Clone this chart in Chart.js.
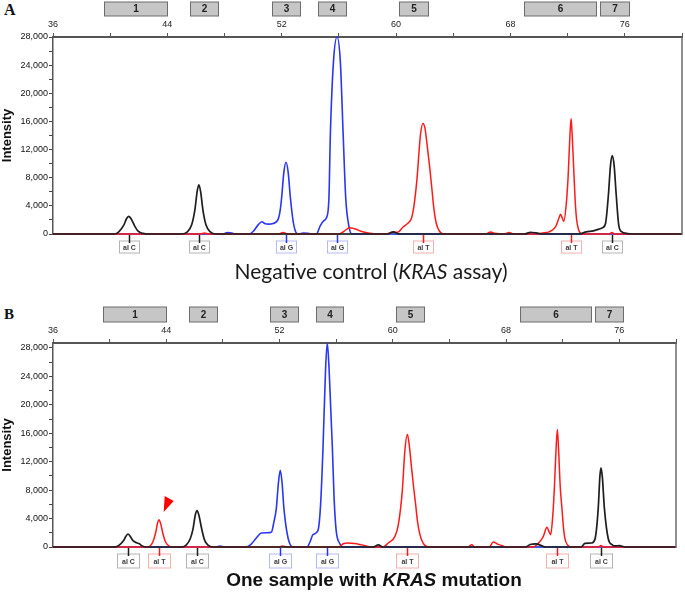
<!DOCTYPE html>
<html>
<head>
<meta charset="utf-8">
<script src="https://cdn.jsdelivr.net/npm/chart.js@4"></script>
<style>
  body { margin: 0; background: #fff; }
  .wrap { position: absolute; left: 0; width: 685px; }
  .txt { position: absolute; white-space: nowrap; color: #111; }
</style>
</head>
<body>
<div class="txt" style="left:4px;top:1px;font:bold 16px 'Liberation Serif';">A</div>
<div class="wrap" style="top:0;height:262px;"><canvas id="chartA"></canvas></div>
<div class="txt" style="left:0;width:742px;text-align:center;top:258px;font:21px Lato;color:#1a1a1a;">Negative control (<i>KRAS</i> assay)</div>

<div class="txt" style="left:4px;top:306px;font:bold 15px 'Liberation Serif';">B</div>
<div class="wrap" style="top:300px;height:280px;"><canvas id="chartB"></canvas></div>
<div class="txt" style="left:0;width:748px;text-align:center;top:569px;font:bold 19px 'Liberation Sans';">One sample with <i>KRAS</i> mutation</div>

<script>
// bins shown as grey boxes above the top axis (start, end in bp)
const bins = [[39.55, 44.0], [45.6, 47.55], [51.3, 53.3], [54.57, 56.5], [60.2, 62.2], [68.97, 73.98], [74.26, 76.28]];
const binNames = ['1', '2', '3', '4', '5', '6', '7'];

// intensity ticks (labels on every other one)
const yTicks = [0, 2000, 4000, 6000, 8000, 10000, 12000, 14000, 16000, 18000, 20000, 22000, 24000, 26000, 28000];

// panel A traces, [size, intensity]
const aBlack = [[36,0],[40.3,0],[40.6,300],[40.95,1250],[41.15,2200],[41.29,2500],[41.45,2200],[41.7,1200],[41.95,400],[42.3,80],[42.7,0],
  [45.0,0],[45.4,300],[45.7,1300],[45.93,3500],[46.08,6000],[46.2,7000],[46.33,6000],[46.48,3500],[46.7,1300],[47.0,300],[47.4,0],
  [59.4,0],[59.8,300],[60.2,0],[69.0,0],[69.4,250],[69.8,150],[70.2,0],
  [72.8,0],[73.3,300],[73.8,450],[74.2,700],[74.45,900],[74.65,1500],[74.85,5500],[75.0,9800],[75.12,11150],[75.25,9800],[75.4,5500],[75.58,1200],[75.8,300],[76.1,100],[76.5,0],[80,0]];
const aBlue = [[36,0],[47.9,0],[48.2,200],[48.5,150],[48.8,0],[49.7,0],[50.0,350],[50.35,1300],[50.61,1750],[50.85,1450],[51.07,1400],[51.4,1500],[51.77,2200],[51.9,3500],[52.0,5300],[52.15,8800],[52.3,10200],[52.45,8800],[52.6,5300],[52.8,1800],[53.04,100],[53.2,0],
  [53.5,150],[53.8,100],[54.1,0],[54.43,0],[54.7,1200],[54.95,1900],[55.13,2300],[55.3,5000],[55.4,14000],[55.62,24500],[55.87,28000],[56.1,24500],[56.3,14000],[56.48,5000],[56.72,900],[56.9,0],[80,0]];
const aRed = [[36,0],[46.3,0],[46.6,150],[46.9,0],[51.8,0],[52.1,200],[52.4,0],
  [56.0,0],[56.4,450],[56.75,900],[57.1,750],[57.6,350],[58.2,100],[58.5,0],
  [59.3,0],[59.7,250],[60.1,250],[60.49,1000],[60.8,1500],[61.07,2200],[61.25,4000],[61.46,7800],[61.7,14000],[61.88,15700],[62.02,15000],[62.18,12500],[62.35,9500],[62.5,6500],[62.65,3500],[62.8,1600],[63.0,500],[63.3,0],
  [66.3,0],[66.6,300],[66.9,100],[67.6,0],[67.9,200],[68.2,0],
  [69.8,0],[70.23,150],[70.7,300],[71.15,1000],[71.4,2300],[71.5,2800],[71.62,2300],[71.73,1800],[71.9,4200],[72.03,8000],[72.15,13500],[72.24,16400],[72.32,14000],[72.42,9500],[72.52,5000],[72.62,2200],[72.75,700],[73.0,0],
  [74.9,0],[75.1,200],[75.3,0],[80,0]];
const aGreen = [[36,0],[80,0]];

// panel B traces
const bBlack = [[36,0],[40.2,0],[40.6,150],[40.99,900],[41.15,1500],[41.3,1830],[41.45,1500],[41.65,900],[41.9,600],[42.1,450],[42.3,150],[42.6,0],
  [45.1,0],[45.42,300],[45.7,1200],[45.89,2560],[46.05,4500],[46.17,5120],[46.3,4500],[46.5,2560],[46.7,1000],[46.95,250],[47.3,0],
  [58.6,0],[58.98,300],[59.3,0],[69.4,0],[69.7,350],[70.1,450],[70.5,200],[70.8,0],
  [73.3,0],[73.57,500],[74.04,560],[74.28,1130],[74.51,5500],[74.62,9800],[74.7,11130],[74.8,9800],[74.94,5500],[75.22,1130],[75.5,300],[75.69,150],[76.0,200],[76.4,0],[80,0]];
const bBlue = [[36,0],[47.5,0],[47.8,150],[48.1,0],[49.65,0],[50.0,400],[50.36,1270],[50.71,1970],[51.1,2000],[51.42,2070],[51.6,3500],[51.77,5400],[51.92,9000],[52.05,10800],[52.18,9000],[52.31,5400],[52.6,1270],[52.95,0],
  [53.94,0],[54.15,700],[54.36,1740],[54.71,2300],[54.9,6000],[55.07,14000],[55.25,25000],[55.37,28700],[55.5,25000],[55.73,14000],[55.85,7000],[56.0,2300],[56.25,500],[56.48,0],[80,0]];
const bRed = [[36,0],[42.6,0],[42.83,100],[43.05,700],[43.25,2000],[43.38,3300],[43.49,3850],[43.6,3300],[43.75,2000],[43.95,700],[44.24,100],[44.5,0],
  [52.0,0],[52.2,150],[52.5,0],[56.2,0],[56.5,450],[56.83,560],[57.3,500],[57.8,300],[58.51,0],
  [59.3,0],[59.68,560],[60.15,1500],[60.39,3150],[60.67,7900],[60.85,13500],[61.03,15820],[61.17,14200],[61.33,11000],[61.48,8200],[61.6,6200],[61.75,3500],[61.92,1700],[62.15,500],[62.5,0],
  [65.3,0],[65.57,300],[65.8,0],[66.8,0],[67.1,700],[67.4,400],[67.7,200],[68.0,0],
  [69.9,0],[70.4,800],[70.63,1500],[70.89,2770],[71.02,2200],[71.15,1740],[71.3,4500],[71.41,8260],[71.5,12500],[71.62,16520],[71.7,14000],[71.83,8260],[71.93,5800],[72.05,2800],[72.16,1130],[72.35,250],[72.6,0],
  [74.5,0],[74.7,200],[74.9,0],[80,0]];
const bGreen = [[36,0],[80,0]];

// allele calls under each panel
const aCallsAt = [41.29, 46.2, 52.3, 55.87, 61.88, 72.24, 75.12];
const aCalls = ['C', 'C', 'G', 'G', 'T', 'T', 'C'];
const bCallsAt = [41.3, 43.49, 46.17, 52.05, 55.37, 61.03, 71.62, 74.7];
const bCalls = ['C', 'T', 'C', 'G', 'G', 'T', 'T', 'C'];

// arrow marking the mutant peak in panel B
const arrowAt = [44.1, 6200];

const traceColor = { C: '#1e1e1e', G: '#2a36f0', T: '#ff1a1a' };
const callBorder = { C: '#b4b4b4', G: '#b3baf6', T: '#f6b0b0' };

const overlay = {
  id: 'overlay',
  afterDraw(chart, args, o) {
    const ctx = chart.ctx, xs = chart.scales.x, ys = chart.scales.y, a = chart.chartArea;
    ctx.save();
    // right frame
    ctx.strokeStyle = '#6a6a6a'; ctx.lineWidth = 1.5;
    ctx.beginPath(); ctx.moveTo(a.right, a.top); ctx.lineTo(a.right, a.bottom + 1); ctx.stroke();
    // bins
    ctx.font = "bold 10px 'Liberation Sans'"; ctx.textAlign = 'center'; ctx.textBaseline = 'middle';
    bins.forEach(([s, e], i) => {
      const x0 = Math.round(xs.getPixelForValue(s)) + 0.5, x1 = Math.round(xs.getPixelForValue(e)) + 0.5;
      ctx.fillStyle = '#c6c6c6'; ctx.fillRect(x0, o.boxTop, x1 - x0, o.boxH);
      ctx.strokeStyle = '#6c6c6c'; ctx.lineWidth = 1; ctx.strokeRect(x0, o.boxTop, x1 - x0, o.boxH);
      ctx.fillStyle = '#222'; ctx.fillText(binNames[i], (x0 + x1) / 2, o.boxTop + o.boxH / 2 + 0.5);
    });
    // allele calls
    ctx.font = "bold 7px 'Liberation Sans'";
    o.callsAt.forEach((v, i) => {
      const b = o.calls[i], x = Math.round(xs.getPixelForValue(v)) + 0.5;
      const top = a.bottom + 7;
      ctx.fillStyle = '#fff'; ctx.fillRect(x - o.callW / 2, top, o.callW, o.callH);
      ctx.strokeStyle = callBorder[b]; ctx.lineWidth = 1;
      ctx.strokeRect(x - o.callW / 2, top, o.callW, o.callH);
      ctx.strokeStyle = traceColor[b]; ctx.lineWidth = 1.5;
      ctx.beginPath(); ctx.moveTo(x, a.bottom + 1); ctx.lineTo(x, top + 2); ctx.stroke();
      ctx.fillStyle = '#3a3a3a'; ctx.fillText('al ' + b, x, top + o.callH / 2 + 1);
    });
    // arrow
    if (o.arrow) {
      const ax = xs.getPixelForValue(o.arrow[0]), ay = ys.getPixelForValue(o.arrow[1]);
      ctx.fillStyle = '#ff0000';
      ctx.beginPath(); ctx.moveTo(ax - 3, ay - 7); ctx.lineTo(ax + 6, ay - 2); ctx.lineTo(ax - 4, ay + 9); ctx.closePath(); ctx.fill();
    }
    ctx.restore();
  }
};

function pts(arr) { return arr.map(([x, y]) => ({ x: x, y: y })); }

function trace(arr, color, w) {
  return { data: pts(arr), borderColor: color, borderWidth: w, pointRadius: 0,
    cubicInterpolationMode: 'monotone', clip: { left: 0, top: 3, right: 0, bottom: 3 } };
}

function makeChart(id, series, yMax, canvasH, axisTop, plotH, padRight, o) {
  return new Chart(document.getElementById(id), {
    type: 'line',
    data: { datasets: series },
    options: {
      responsive: true, maintainAspectRatio: false, animation: false,
      layout: { padding: { left: 0, right: padRight, top: 0, bottom: canvasH - axisTop - plotH } },
      plugins: { legend: { display: false }, tooltip: { enabled: false }, overlay: o },
      scales: {
        x: {
          type: 'linear', position: 'top', min: 36, max: 80,
          afterFit: s => { s.height = axisTop; },
          ticks: { stepSize: 4, autoSkip: false, maxRotation: 0, padding: 3, color: '#222',
            font: { family: 'Liberation Sans', size: 9 },
            callback: v => ((v - 36) % 8 === 0 && v < 80) ? String(v) : '' },
          grid: { drawOnChartArea: false, tickLength: 4, color: '#555' },
          border: { color: '#555', width: 2 }
        },
        y: {
          min: 0, max: yMax,
          afterFit: s => { s.width = 53; },
          afterBuildTicks: s => { s.ticks = yTicks.map(v => ({ value: v })); },
          ticks: { autoSkip: false, padding: 1, color: '#111',
            font: { family: 'Liberation Sans', size: 9 },
            callback: v => (v % 4000 === 0) ? v.toLocaleString('en-US') : '' },
          grid: { drawOnChartArea: false, tickLength: 4, color: '#444' },
          border: { color: '#555', width: 1.5 },
          title: { display: true, text: 'Intensity', color: '#111', padding: { top: 0, bottom: 0 },
            font: { family: 'Liberation Sans', size: 13, weight: 'bold' } }
        }
      }
    },
    plugins: [overlay]
  });
}

makeChart('chartA', [
  trace(aBlack, traceColor.C, 1.7), trace(aRed, traceColor.T, 1.5), trace(aBlue, traceColor.G, 1.6), trace(aGreen, '#2e8b2e', 1.2)
], 28000, 262, 37, 197, 3, { boxTop: 2, boxH: 14, callsAt: aCallsAt, calls: aCalls, callW: 20, callH: 12 });

makeChart('chartB', [
  trace(bBlack, traceColor.C, 1.7), trace(bRed, traceColor.T, 1.5), trace(bBlue, traceColor.G, 1.6), trace(bGreen, '#2e8b2e', 1.2)
], 28700, 280, 43, 204, 9, { boxTop: 7, boxH: 15, callsAt: bCallsAt, calls: bCalls, callW: 22, callH: 14, arrow: arrowAt });
</script>
</body>
</html>
